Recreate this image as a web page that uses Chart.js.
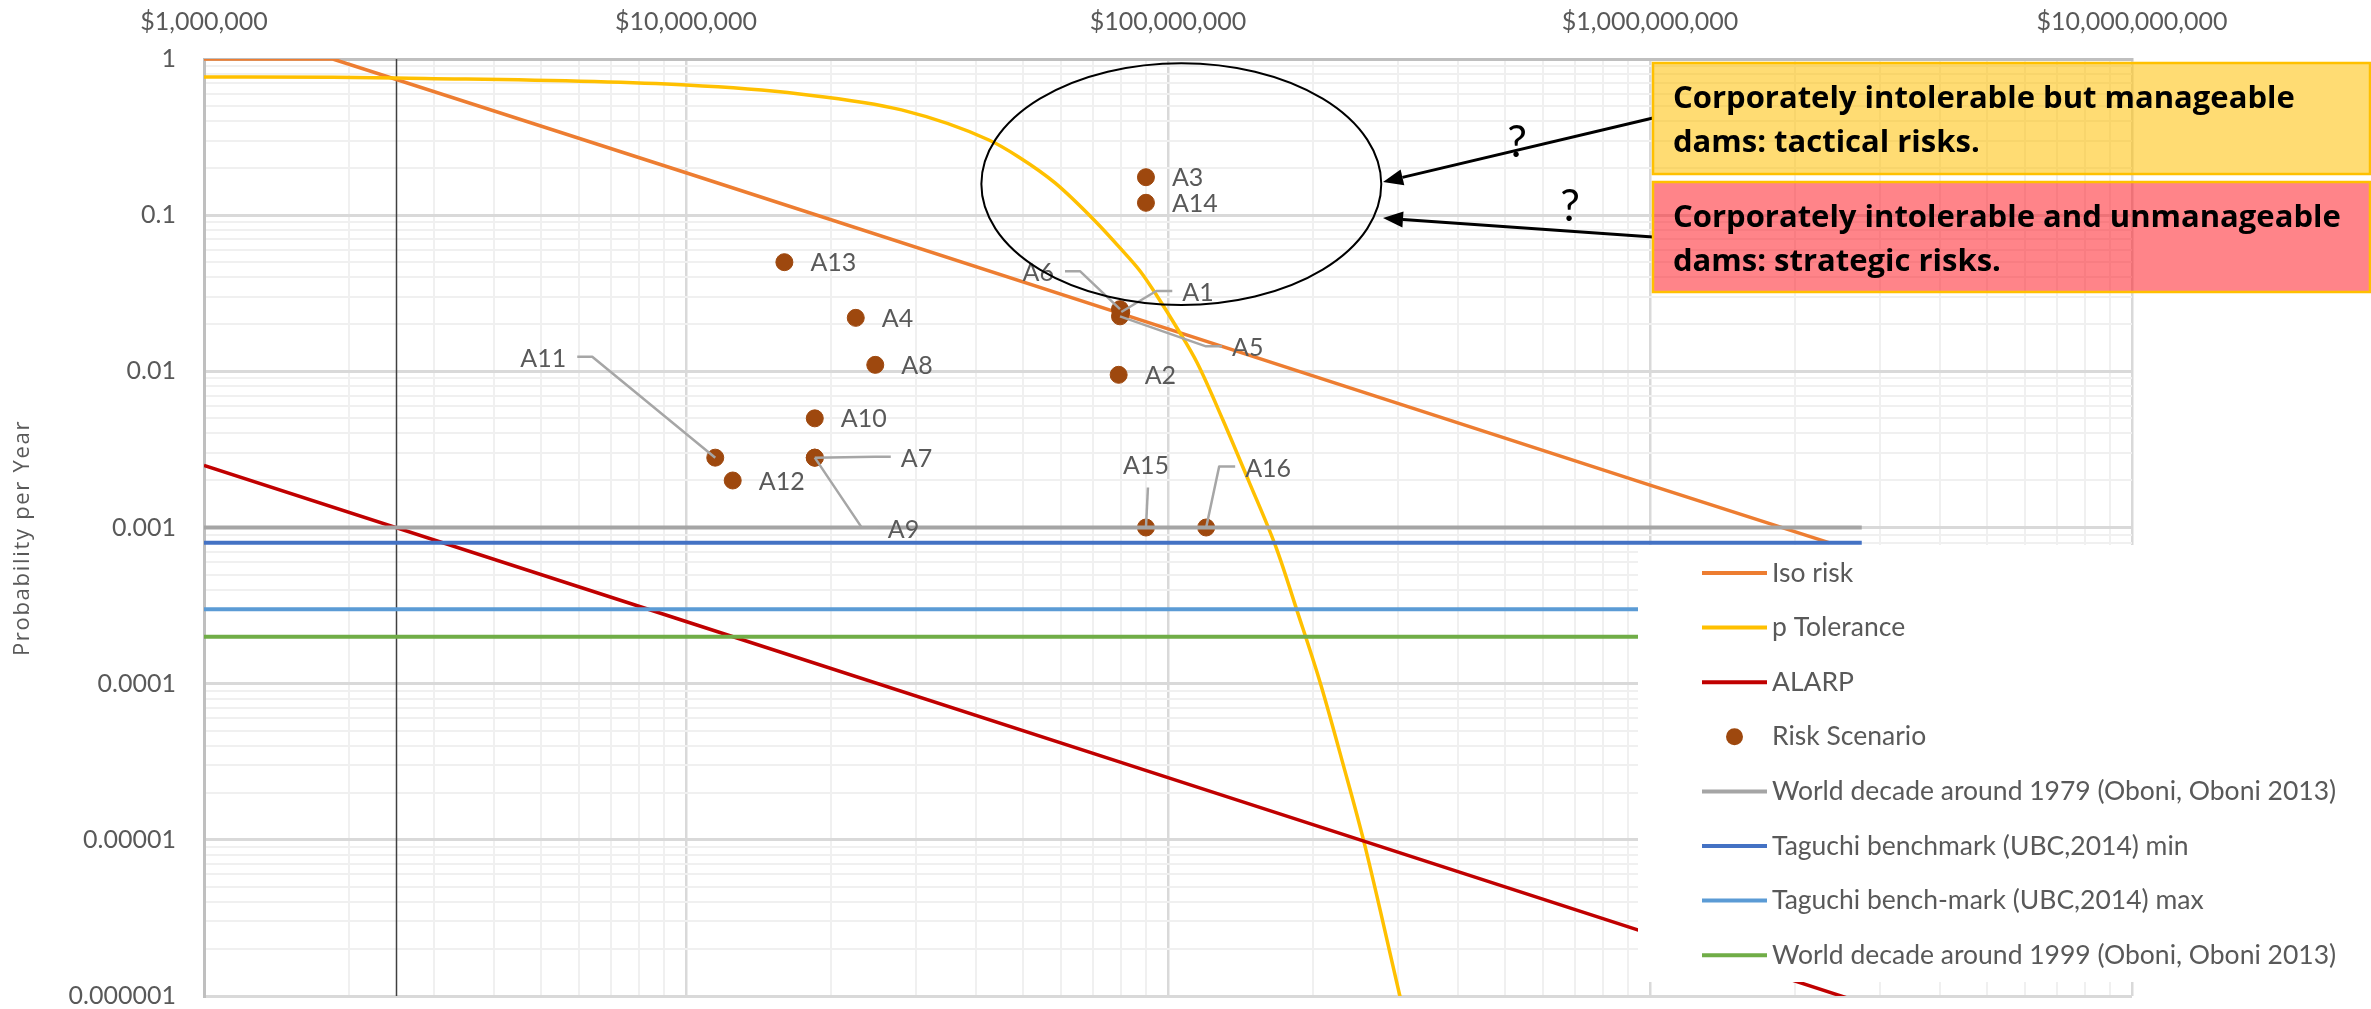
<!DOCTYPE html>
<html>
<head>
<meta charset="utf-8">
<title>Dam portfolio risk profile</title>
<script src="https://cdn.jsdelivr.net/npm/chart.js@4.4.1/dist/chart.umd.min.js"></script>
<style>
  html, body { margin: 0; padding: 0; background: #ffffff; }
  #wrap { width: 2371px; height: 1009px; position: relative; }
</style>
</head>
<body>
<div id="wrap"><canvas id="chart" width="2371" height="1009"></canvas></div>
<script>
// ---- Data -----------------------------------------------------------------
// Risk scenarios: consequence (USD) and probability of failure per year
const scenarioNames = ['A1','A2','A3','A4','A5','A6','A7','A8','A9','A10','A11','A12','A13','A14','A15','A16'];
const scenarioCost  = [80e6, 79e6, 90e6, 22.5e6, 79.5e6, 79.5e6, 18.5e6, 24.7e6, 18.5e6, 18.5e6, 11.5e6, 12.5e6, 16e6, 90e6, 90e6, 120e6];
const scenarioProb  = [0.024, 0.0095, 0.175, 0.022, 0.0225, 0.025, 0.0028, 0.011, 0.0028, 0.005, 0.0028, 0.002, 0.05, 0.12, 0.001, 0.001];

// Iso-risk line (constant expected annual loss)
const isoRiskCost = [1e6, 1.85e6, 1e7, 1e8, 1e9, 2.35e9];
const isoRiskProb = [1, 1, 0.187, 0.0187, 0.00187, 0.0008];

// Corporate probability tolerance curve
const toleranceCost = [1e6, 1.85e6, 2.5e6, 1e7, 1.72e7, 2.8e7, 4.25e7, 4.9e7, 5.83e7, 7.09e7, 7.95e7, 8.75e7,
                       9.49e7, 1.05e8, 1.15e8, 1.3e8, 1.47e8, 1.68e8, 1.85e8, 2.07e8, 2.31e8, 2.55e8, 3.03e8];
const toleranceProb = [0.767, 0.765, 0.756, 0.681, 0.597, 0.472, 0.303, 0.236, 0.161, 0.0905, 0.0617, 0.0439,
                       0.0304, 0.0184, 0.0113, 0.00488, 0.00199, 0.00073, 0.000297, 0.000101, 0.0000302, 0.0000097, 0.00000099];

// ALARP line
const alarpCost = [1e6, 1e7, 1e8, 1e9, 3e9];
const alarpProb = [0.0025, 0.00025, 0.000025, 0.0000025, 0.00000083];

// Benchmark failure rates (horizontal references)
const benchmarkCost = [1e6, 2.75e9];
const world1979Prob   = 0.001;
const taguchiMinProb  = 0.0008;
const taguchiMaxProb  = 0.0003;
const world1999Prob   = 0.0002;

// Cost at which the value axis crosses
const valueAxisCrossing = 2.5e6;

// Tick labels, one per decade
const xTickLabels = ['$1,000,000', '$10,000,000', '$100,000,000', '$1,000,000,000', '$10,000,000,000'];
const yTickLabels = ['1', '0.1', '0.01', '0.001', '0.0001', '0.00001', '0.000001'];

// ---- Label placement (pixel offsets from each point) ----------------------
const defaultPlacement = { dx: 26, dy: 1, align: 'left' };
const labelPlacement = {
  A1:  { dx: 61,   dy: -19, align: 'left',   leader: 'left' },
  A5:  { dx: 112,  dy: 32,  align: 'left',   leader: 'left' },
  A6:  { dx: -66,  dy: -36, align: 'right',  leader: 'right' },
  A7:  { dx: 86,   dy: 1,   align: 'left',   leader: 'left' },
  A9:  { dx: 73,   dy: 72,  align: 'left',   leader: 'left' },
  A11: { dx: -149, dy: -99, align: 'right',  leader: 'right' },
  A15: { dx: 0,    dy: -62, align: 'center', leader: 'below' },
  A16: { dx: 39,   dy: -59, align: 'left',   leader: 'left' }
};

const textGrey = '#595959';
const fontMain = 'Lato, "Liberation Sans", sans-serif';

// ---- Helpers --------------------------------------------------------------
const pairs = (xs, ys) => xs.map((x, i) => ({ x, y: ys[i] }));
const flat = (xs, y) => xs.map(x => ({ x, y }));
const isDecade = v => { const l = Math.log10(v); return Math.abs(l - Math.round(l)) < 1e-6; };

function logTicks(min, max) {
  const out = [];
  const e0 = Math.round(Math.log10(min)), e1 = Math.round(Math.log10(max));
  for (let e = e0; e < e1; e++) {
    for (let m = 1; m <= 9; m++) out.push({ value: parseFloat((m * Math.pow(10, e)).toPrecision(12)) });
  }
  out.push({ value: max });
  return out;
}

const gridColor = ctx => (ctx.tick && isDecade(ctx.tick.value)) ? '#D9D9D9' : '#F0F0F0';
const gridWidth = ctx => (ctx.tick && isDecade(ctx.tick.value)) ? 3 : 2;

// ---- Overlay drawing: axis crossing, labels, legend, call-outs ------------
function drawScenarioLabels(chart) {
  const { ctx } = chart;
  const meta = chart.getDatasetMeta(3);
  ctx.save();
  ctx.font = '25px ' + fontMain;
  ctx.textBaseline = 'middle';
  meta.data.forEach((pt, i) => {
    const name = scenarioNames[i];
    const p = labelPlacement[name] || defaultPlacement;
    const lx = pt.x + p.dx, ly = pt.y + p.dy;
    if (p.leader) {
      ctx.strokeStyle = '#A6A6A6';
      ctx.lineWidth = 2.5;
      ctx.lineJoin = 'round';
      ctx.beginPath();
      if (p.leader === 'left') {
        ctx.moveTo(pt.x, pt.y); ctx.lineTo(lx - 26, ly - 2); ctx.lineTo(lx - 10, ly - 2);
      } else if (p.leader === 'right') {
        ctx.moveTo(lx + 11, ly - 2); ctx.lineTo(lx + 26, ly - 2); ctx.lineTo(pt.x, pt.y);
      } else {
        ctx.moveTo(lx + 2, ly + 22); ctx.lineTo(pt.x, pt.y);
      }
      ctx.stroke();
    }
    ctx.fillStyle = textGrey;
    ctx.textAlign = p.align;
    ctx.fillText(name, lx, ly);
  });
  ctx.restore();
}

const legendBox = { x: 1638, y: 545, w: 720, h: 437, sampleX0: 1702, sampleX1: 1767, textX: 1772, firstRow: 573, rowGap: 54.6 };

function drawLegend(chart) {
  const { ctx } = chart;
  const b = legendBox;
  ctx.save();
  ctx.fillStyle = '#ffffff';
  ctx.fillRect(b.x, b.y, b.w, b.h);
  ctx.font = '26.5px ' + fontMain;
  ctx.textBaseline = 'middle';
  ctx.textAlign = 'left';
  chart.data.datasets.forEach((ds, i) => {
    const cy = b.firstRow + i * b.rowGap;
    if (ds.showLine === false) {
      ctx.fillStyle = ds.backgroundColor;
      ctx.beginPath();
      ctx.arc((b.sampleX0 + b.sampleX1) / 2, cy, ds.pointRadius, 0, Math.PI * 2);
      ctx.fill();
    } else {
      ctx.strokeStyle = ds.borderColor;
      ctx.lineWidth = 4;
      ctx.beginPath();
      ctx.moveTo(b.sampleX0, cy); ctx.lineTo(b.sampleX1, cy);
      ctx.stroke();
    }
    ctx.fillStyle = textGrey;
    ctx.fillText(ds.label, b.textX, cy);
  });
  ctx.restore();
}

function drawAxisTitle(chart) {
  const { ctx } = chart;
  ctx.save();
  ctx.translate(23, 538);
  ctx.rotate(-Math.PI / 2);
  ctx.font = '22px "Open Sans", sans-serif';
  ctx.letterSpacing = '1.7px';
  ctx.fillStyle = textGrey;
  ctx.textAlign = 'center';
  ctx.textBaseline = 'middle';
  ctx.fillText('Probability per Year', 0, 0);
  ctx.restore();
}

// Region of concern, given in chart values
const concernRegion = { costMin: 4.1e7, costMax: 2.77e8, probMin: 0.0266, probMax: 0.94 };

const callouts = [
  { lines: ['Corporately intolerable but manageable', 'dams: tactical risks.'],
    box: { x: 1653, y: 63, w: 717, h: 111 }, fill: 'rgba(255, 192, 0, 0.55)',
    arrowFrom: [1653, 118], arrowTo: [1383, 182], mark: [1517, 143] },
  { lines: ['Corporately intolerable and unmanageable', 'dams: strategic risks.'],
    box: { x: 1653, y: 182, w: 717, h: 110 }, fill: 'rgba(255, 20, 28, 0.52)',
    arrowFrom: [1653, 237], arrowTo: [1383, 218], mark: [1570, 207] }
];

function arrow(ctx, from, to) {
  const ang = Math.atan2(to[1] - from[1], to[0] - from[0]);
  const len = 20, half = 8;
  const bx = to[0] - len * Math.cos(ang), by = to[1] - len * Math.sin(ang);
  ctx.beginPath();
  ctx.moveTo(from[0], from[1]);
  ctx.lineTo(bx, by);
  ctx.stroke();
  ctx.beginPath();
  ctx.moveTo(to[0], to[1]);
  ctx.lineTo(bx + half * Math.sin(ang), by - half * Math.cos(ang));
  ctx.lineTo(bx - half * Math.sin(ang), by + half * Math.cos(ang));
  ctx.closePath();
  ctx.fill();
}

function drawCallouts(chart) {
  const { ctx, scales: { x, y } } = chart;
  ctx.save();
  // ellipse around the scenarios of concern
  const l = x.getPixelForValue(concernRegion.costMin), r = x.getPixelForValue(concernRegion.costMax);
  const t = y.getPixelForValue(concernRegion.probMax), btm = y.getPixelForValue(concernRegion.probMin);
  ctx.strokeStyle = '#000000';
  ctx.lineWidth = 2;
  ctx.beginPath();
  ctx.ellipse((l + r) / 2, (t + btm) / 2, (r - l) / 2, (btm - t) / 2, 0, 0, Math.PI * 2);
  ctx.stroke();

  callouts.forEach(c => {
    ctx.strokeStyle = '#000000';
    ctx.fillStyle = '#000000';
    ctx.lineWidth = 3;
    arrow(ctx, c.arrowFrom, c.arrowTo);

    ctx.font = '44px ' + fontMain;
    ctx.textAlign = 'center';
    ctx.textBaseline = 'middle';
    ctx.fillText('?', c.mark[0], c.mark[1]);

    ctx.fillStyle = c.fill;
    ctx.fillRect(c.box.x, c.box.y, c.box.w, c.box.h);
    ctx.strokeStyle = '#FFC000';
    ctx.lineWidth = 2.5;
    ctx.strokeRect(c.box.x, c.box.y, c.box.w, c.box.h);

    ctx.fillStyle = '#000000';
    ctx.font = 'bold 31px "Open Sans", sans-serif';
    ctx.textAlign = 'left';
    ctx.textBaseline = 'alphabetic';
    c.lines.forEach((s, k) => ctx.fillText(s, c.box.x + 20, c.box.y + 45 + k * 44));
  });
  ctx.restore();
}

const overlay = {
  id: 'overlay',
  beforeDatasetsDraw(chart) {
    const { ctx, chartArea: a, scales: { x } } = chart;
    const px = Math.round(x.getPixelForValue(valueAxisCrossing)) + 0.5;
    ctx.save();
    ctx.strokeStyle = '#404040';
    ctx.lineWidth = 1.5;
    ctx.beginPath();
    ctx.moveTo(px, a.top);
    ctx.lineTo(px, a.bottom);
    ctx.stroke();
    ctx.restore();
  },
  afterDatasetsDraw(chart) {
    drawScenarioLabels(chart);
    drawLegend(chart);
    drawAxisTitle(chart);
    drawCallouts(chart);
  }
};

// ---- Chart ----------------------------------------------------------------
const lineSet = (label, data, color, width, order, extra) => Object.assign({
  label, data, borderColor: color, backgroundColor: color, borderWidth: width,
  showLine: true, pointRadius: 0, pointHoverRadius: 0, order
}, extra || {});

new Chart(document.getElementById('chart'), {
  type: 'scatter',
  data: {
    datasets: [
      lineSet('Iso risk', pairs(isoRiskCost, isoRiskProb), '#ED7D31', 3.5, 8),
      lineSet('p Tolerance', pairs(toleranceCost, toleranceProb), '#FFC000', 3.5, 7, { cubicInterpolationMode: 'monotone' }),
      lineSet('ALARP', pairs(alarpCost, alarpProb), '#C00000', 3.5, 6),
      { label: 'Risk Scenario', data: pairs(scenarioCost, scenarioProb), showLine: false,
        backgroundColor: '#9E480E', borderColor: '#9E480E', borderWidth: 1, pointRadius: 8.5, pointHoverRadius: 8.5, order: 5 },
      lineSet('World decade around 1979 (Oboni, Oboni 2013)', flat(benchmarkCost, world1979Prob), '#A5A5A5', 4, 4),
      lineSet('Taguchi benchmark (UBC,2014) min', flat(benchmarkCost, taguchiMinProb), '#4472C4', 4, 3),
      lineSet('Taguchi bench-mark (UBC,2014) max', flat(benchmarkCost, taguchiMaxProb), '#5B9BD5', 4, 2),
      lineSet('World decade around 1999 (Oboni, Oboni 2013)', flat(benchmarkCost, world1999Prob), '#70AD47', 4, 1)
    ]
  },
  options: {
    responsive: false,
    animation: false,
    devicePixelRatio: 1,
    layout: { padding: { left: 0, right: 239, top: 0, bottom: 13 } },
    plugins: { legend: { display: false }, tooltip: { enabled: false } },
    scales: {
      x: {
        type: 'logarithmic', position: 'top', min: 1e6, max: 1e10,
        afterBuildTicks: s => { s.ticks = logTicks(1e6, 1e10); },
        afterFit: s => { s.height = 59; },
        grid: { color: gridColor, lineWidth: ctx => (ctx.tick && isDecade(ctx.tick.value)) ? 2.5 : 2, drawTicks: false },
        border: { color: '#BFBFBF', width: 3 },
        ticks: {
          autoSkip: false, maxRotation: 0, padding: 25, color: textGrey,
          font: { family: fontMain, size: 25, lineHeight: 1 },
          callback: v => isDecade(v) ? xTickLabels[Math.round(Math.log10(v)) - 6] : ''
        }
      },
      y: {
        type: 'logarithmic', position: 'left', min: 1e-6, max: 1,
        afterBuildTicks: s => { s.ticks = logTicks(1e-6, 1); },
        afterFit: s => { s.width = 204; },
        grid: { color: gridColor, lineWidth: gridWidth, drawTicks: true, tickLength: 28, tickColor: 'rgba(0,0,0,0)' },
        border: { color: '#BFBFBF', width: 3 },
        ticks: {
          autoSkip: false, padding: 0, color: textGrey,
          font: { family: fontMain, size: 25, lineHeight: 1 },
          callback: v => isDecade(v) ? yTickLabels[-Math.round(Math.log10(v))] : ''
        }
      }
    }
  },
  plugins: [overlay]
});
</script>
</body>
</html>
